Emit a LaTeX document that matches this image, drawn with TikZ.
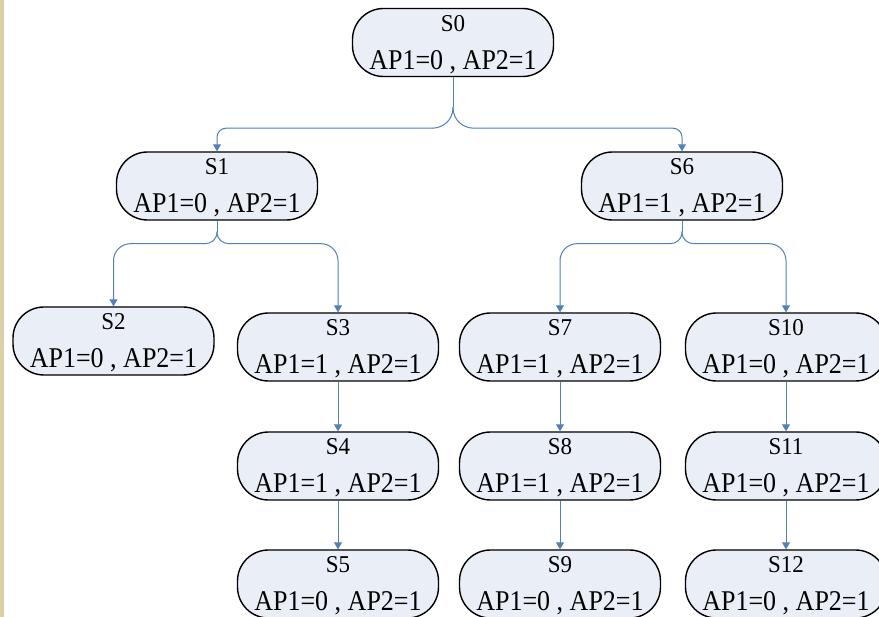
\documentclass[tikz,border=0pt]{standalone}
\usepackage{fontspec}
\setmainfont{Liberation Serif}
\usetikzlibrary{arrows.meta,calc}
\definecolor{boxfill}{HTML}{EAEEF7}
\definecolor{linkblue}{HTML}{4F81BD}
\definecolor{strip}{HTML}{DED0A6}
\tikzset{
  state/.style={draw=black, line width=1.4pt, fill=boxfill, rounded corners=31pt,
    minimum width=201pt, minimum height=68pt, inner sep=0pt, align=center,
    font=\fontsize{26}{38}\selectfont},
  conn/.style={draw=linkblue, line width=1pt},
  arr/.style={conn, -{Triangle[length=7pt,width=8pt]}},
}
\newcommand{\stlabel}[2]{{\fontsize{23}{38}\selectfont\rule{0pt}{20pt}\scalebox{1}[1.05]{#1}}\\\scalebox{1}[1.1]{#2}}
\begin{document}
\begin{tikzpicture}[x=1pt,y=-1pt]
\path[use as bounding box, fill=white] (0,0) rectangle (879,617);
\clip (0,0) rectangle (879,617);
\fill[strip] (0,0) rectangle (4,617);

\node[state] (S0) at (453,42.5) {\stlabel{S0}{AP1=0 , AP2=1}};
\node[state] (S1) at (217,186) {\stlabel{S1}{AP1=0 , AP2=1}};
\node[state] (S6) at (682,186) {\stlabel{S6}{AP1=1 , AP2=1}};
\node[state] (S2) at (113.5,341) {\stlabel{S2}{AP1=0 , AP2=1}};
\node[state] (S3) at (338,347) {\stlabel{S3}{AP1=1 , AP2=1}};
\node[state] (S7) at (560,347) {\stlabel{S7}{AP1=1 , AP2=1}};
\node[state] (S10) at (786,347) {\stlabel{S10}{AP1=0 , AP2=1}};
\node[state] (S4) at (338,466) {\stlabel{S4}{AP1=1 , AP2=1}};
\node[state] (S8) at (560,466) {\stlabel{S8}{AP1=1 , AP2=1}};
\node[state] (S11) at (786,466) {\stlabel{S11}{AP1=0 , AP2=1}};
\node[state] (S5) at (338,584) {\stlabel{S5}{AP1=0 , AP2=1}};
\node[state] (S9) at (560,584) {\stlabel{S9}{AP1=0 , AP2=1}};
\node[state] (S12) at (786,584) {\stlabel{S12}{AP1=0 , AP2=1}};

% brace from S0
\coordinate (b0) at ($(S0.south)+(0,30)$);
\coordinate (b0l) at ($(S0.south)+(-21,51)$);
\coordinate (b0r) at ($(S0.south)+(21,51)$);
\draw[conn] (S0.south) -- (b0);
\draw[conn] (b0) .. controls +(0,14) and +(10,0) .. (b0l);
\draw[conn] (b0) .. controls +(0,14) and +(-10,0) .. (b0r);
\draw[arr, rounded corners=9pt] (b0l) -| (S1.north);
\draw[arr, rounded corners=9pt] (b0r) -| (S6.north);

% brace from S1
\coordinate (b1) at ($(S1.south)+(0,11)$);
\coordinate (b1l) at ($(S1.south)+(-12,23)$);
\coordinate (b1r) at ($(S1.south)+(12,23)$);
\draw[conn] (S1.south) -- (b1);
\draw[conn] (b1) .. controls +(0,8) and +(6,0) .. (b1l);
\draw[conn] (b1) .. controls +(0,8) and +(-6,0) .. (b1r);
\draw[arr, rounded corners=17pt] (b1l) -| (S2.north);
\draw[arr, rounded corners=17pt] (b1r) -| (S3.north);

% brace from S6
\coordinate (b6) at ($(S6.south)+(0,11)$);
\coordinate (b6l) at ($(S6.south)+(-12,23)$);
\coordinate (b6r) at ($(S6.south)+(12,23)$);
\draw[conn] (S6.south) -- (b6);
\draw[conn] (b6) .. controls +(0,8) and +(6,0) .. (b6l);
\draw[conn] (b6) .. controls +(0,8) and +(-6,0) .. (b6r);
\draw[arr, rounded corners=17pt] (b6l) -| (S7.north);
\draw[arr, rounded corners=17pt] (b6r) -| (S10.north);

% vertical chains
\draw[arr] (S3.south) -- (S4.north);
\draw[arr] (S4.south) -- (S5.north);
\draw[arr] (S7.south) -- (S8.north);
\draw[arr] (S8.south) -- (S9.north);
\draw[arr] (S10.south) -- (S11.north);
\draw[arr] (S11.south) -- (S12.north);
\end{tikzpicture}
\end{document}
